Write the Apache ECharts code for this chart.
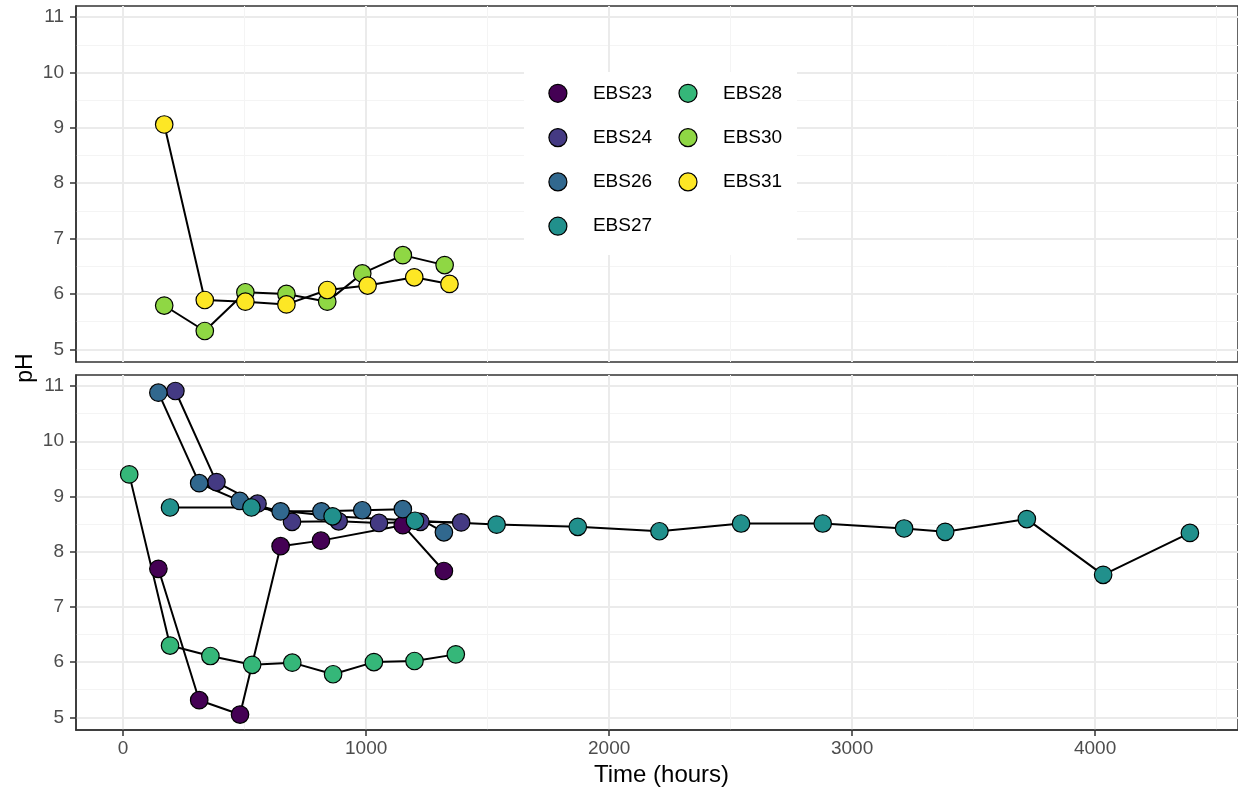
<!DOCTYPE html>
<html>
<head>
<meta charset="utf-8">
<script src="https://cdn.jsdelivr.net/npm/echarts@6.0.0/dist/echarts.min.js"></script>
<style>
  html, body { margin: 0; padding: 0; background: #fff; }
  #chart { width: 1238px; height: 790px; }
</style>
</head>
<body>
<div id="chart"></div>
<script>
// [time (hours), pH]
const EBS23 = [[145, 7.69], [313, 5.31], [481, 5.05], [648, 8.10], [814, 8.20], [1151, 8.48], [1320, 7.65]]
const EBS24 = [[215, 10.91], [384, 9.26], [553, 8.87], [695, 8.54], [887, 8.55], [1053, 8.52], [1223, 8.54], [1391, 8.53]]
const EBS26 = [[145, 10.88], [313, 9.24], [480, 8.92], [648, 8.73], [816, 8.73], [984, 8.75], [1151, 8.77], [1320, 8.35]]
const EBS27 = [[193, 8.80], [528, 8.80], [862, 8.64], [1201, 8.56], [1537, 8.49], [1871, 8.45], [2207, 8.37],
  [2543, 8.51], [2879, 8.51], [3214, 8.42], [3383, 8.36], [3719, 8.59], [4033, 7.58], [4390, 8.34]]
const EBS28 = [[25, 9.40], [193, 6.30], [359, 6.11], [531, 5.95], [696, 5.99], [864, 5.78], [1032, 6.00], [1199, 6.02], [1369, 6.14]]
const EBS30 = [[169, 5.79], [336, 5.33], [503, 6.03], [672, 6.00], [840, 5.86], [984, 6.37], [1151, 6.70], [1323, 6.52]]
const EBS31 = [[169, 9.06], [336, 5.89], [503, 5.86], [672, 5.81], [840, 6.07], [1006, 6.15], [1198, 6.30], [1343, 6.18]]

const xTicks = [0, 1000, 2000, 3000, 4000]
const xMinor = [500, 1500, 2500, 3500, 4500]
const yTicks = [5, 6, 7, 8, 9, 10, 11]
const yMinor = [5.5, 6.5, 7.5, 8.5, 9.5, 10.5]

// name, data, colour, panel (0 = top, 1 = bottom)
const groups = [
  { name: 'EBS23', data: EBS23, color: '#440154', panel: 1 },
  { name: 'EBS24', data: EBS24, color: '#443A83', panel: 1 },
  { name: 'EBS26', data: EBS26, color: '#31688E', panel: 1 },
  { name: 'EBS27', data: EBS27, color: '#21908C', panel: 1 },
  { name: 'EBS28', data: EBS28, color: '#35B779', panel: 1 },
  { name: 'EBS30', data: EBS30, color: '#8FD744', panel: 0 },
  { name: 'EBS31', data: EBS31, color: '#FDE725', panel: 0 },
]

const FONT = '"Liberation Sans", Arial, sans-serif'
const X_MIN = -194, X_MAX = 4588
const Y_MIN = 4.77, Y_MAX = 11.2

const chart = echarts.init(document.getElementById('chart'))

function xAxis(grid, major) {
  const shown = major && grid === 1
  return {
    type: 'value', gridIndex: grid, min: X_MIN, max: X_MAX, position: 'bottom',
    axisLine: { show: shown, onZero: false, lineStyle: { color: '#333', width: 1.5 } },
    axisTick: {
      show: shown, length: 6, customValues: major ? xTicks : xMinor,
      lineStyle: { color: '#333', width: 1.5 }
    },
    axisLabel: {
      show: shown, customValues: xTicks, margin: 9,
      formatter: v => String(v),
      fontSize: 19, color: '#4D4D4D', fontFamily: FONT
    },
    splitLine: { show: true, lineStyle: { color: major ? '#EBEBEB' : '#F4F4F4', width: major ? 2 : 1 } }
  }
}

function yAxis(grid, major) {
  return {
    type: 'value', gridIndex: grid, min: Y_MIN, max: Y_MAX, position: 'left',
    axisLine: { show: major, onZero: false, lineStyle: { color: '#333', width: 1.5 } },
    axisTick: {
      show: major, length: 6, customValues: major ? yTicks : yMinor,
      lineStyle: { color: '#333', width: 1.5 }
    },
    axisLabel: {
      show: major, customValues: yTicks, margin: 12,
      formatter: v => String(v),
      fontSize: 19, color: '#4D4D4D', fontFamily: FONT
    },
    splitLine: { show: true, lineStyle: { color: major ? '#EBEBEB' : '#F4F4F4', width: major ? 2 : 1 } }
  }
}

const lines = groups.map(g => ({
  type: 'line', name: 'line-' + g.name, data: g.data,
  xAxisIndex: g.panel, yAxisIndex: g.panel,
  symbol: 'none', silent: true, z: 2,
  lineStyle: { color: '#000', width: 2 }
}))

const points = groups.map(g => ({
  type: 'scatter', name: g.name, data: g.data,
  xAxisIndex: g.panel, yAxisIndex: g.panel,
  symbol: 'circle', symbolSize: 17.5, z: 3,
  itemStyle: { color: g.color, borderColor: '#000', borderWidth: 1.2, opacity: 1 }
}))

function legend(names, left) {
  return {
    data: names, left: left, top: 83.7, orient: 'vertical',
    padding: 0, itemWidth: 60, itemHeight: 18, itemGap: 25.1,
    icon: 'circle', selectedMode: false,
    itemStyle: { borderColor: '#000', borderWidth: 1.2 },
    textStyle: { fontSize: 19, color: '#000', fontFamily: FONT, lineHeight: 18 }
  }
}

chart.setOption({
  animation: false,
  backgroundColor: '#fff',
  grid: [
    { left: 76, right: -1, top: 6, height: 356, show: true, borderColor: '#333', borderWidth: 1.5, backgroundColor: '#fff' },
    { left: 76, right: -1, top: 375, height: 355, show: true, borderColor: '#333', borderWidth: 1.5, backgroundColor: '#fff' }
  ],
  xAxis: [xAxis(0, true), xAxis(1, true), xAxis(0, false), xAxis(1, false)],
  yAxis: [yAxis(0, true), yAxis(1, true), yAxis(0, false), yAxis(1, false)],
  legend: [
    legend(['EBS23', 'EBS24', 'EBS26', 'EBS27'], 548.3),
    legend(['EBS28', 'EBS30', 'EBS31'], 678.4)
  ],
  graphic: [
    { type: 'rect', z: 1, shape: { x: 524, y: 72, width: 273, height: 183 }, style: { fill: '#fff' } },
    {
      type: 'text', x: 26, y: 368, rotation: Math.PI / 2,
      style: { text: 'pH', fontSize: 23, fill: '#000', fontFamily: FONT, align: 'center', verticalAlign: 'middle' }
    },
    {
      type: 'text', x: 661.5, y: 775,
      style: { text: 'Time (hours)', fontSize: 24, fill: '#000', fontFamily: FONT, align: 'center', verticalAlign: 'middle' }
    }
  ],
  series: lines.concat(points)
})
</script>
</body>
</html>
